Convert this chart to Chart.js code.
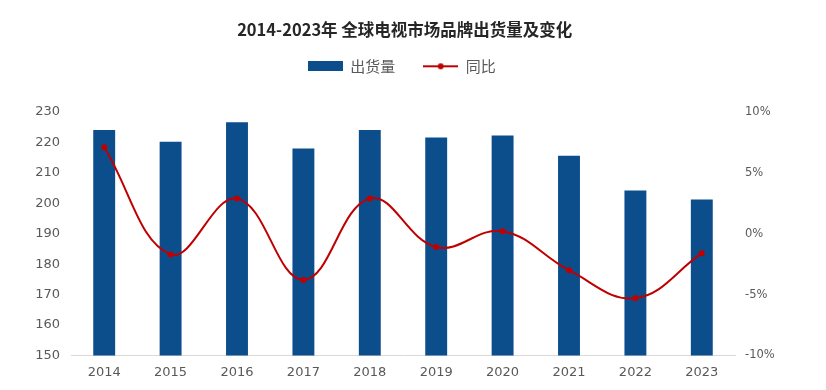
<!DOCTYPE html>
<html>
<head>
<meta charset="utf-8">
<style>
html,body{margin:0;padding:0;background:#fff;}
#wrap{width:826px;height:390px;position:relative;}
</style>
<script src="https://cdn.jsdelivr.net/npm/chart.js@4.4.1/dist/chart.umd.min.js"></script>
</head>
<body>
<div id="wrap"><canvas id="c" width="826" height="390"></canvas></div>
<script>
const categories = ['2014','2015','2016','2017','2018','2019','2020','2021','2022','2023'];
const shipments = [224.1, 220.2, 226.6, 218.0, 224.1, 221.6, 222.3, 215.6, 204.2, 201.2];
const yoy = [7.1, -1.7, 2.9, -3.8, 2.9, -1.1, 0.2, -3.0, -5.3, -1.6];
const titleText = '2014-2023年 全球电视市场品牌出货量及变化';
const seriesNames = ['出货量', '同比'];

const FONT = '"Noto Sans CJK SC", "Noto Sans", sans-serif';
const NUMFONT = '"DejaVu Sans", sans-serif';
const BAR = '#0C4D8C';
const RED = '#C00000';

function barIcon(){
  const c = document.createElement('canvas'); c.width = 35; c.height = 10;
  const g = c.getContext('2d'); g.fillStyle = BAR; g.fillRect(0,0,35,10); return c;
}
function lineIcon(){
  const c = document.createElement('canvas'); c.width = 35; c.height = 10;
  const g = c.getContext('2d'); g.strokeStyle = RED; g.lineWidth = 2;
  g.beginPath(); g.moveTo(0,5); g.lineTo(35,5); g.stroke();
  g.fillStyle = RED; g.beginPath(); g.arc(17.5,5,3,0,Math.PI*2); g.fill(); return c;
}

new Chart(document.getElementById('c'), {
  data: {
    labels: categories,
    datasets: [
      {
        type: 'line', label: seriesNames[1], data: yoy, yAxisID: 'y1',
        borderColor: RED, backgroundColor: RED, borderWidth: 2,
        pointRadius: 3, pointBackgroundColor: RED, pointBorderWidth: 0,
        tension: 0.4, order: 0
      },
      {
        type: 'bar', label: seriesNames[0], data: shipments, yAxisID: 'y',
        backgroundColor: BAR, barPercentage: 0.33, categoryPercentage: 1.0, order: 1
      }
    ]
  },
  options: {
    responsive: false, animation: false,
    layout: { padding: { top: 11, left: 0, right: 0, bottom: 1 } },
    plugins: {
      title: {
        display: true, text: titleText + '\u3000', color: '#262626',
        font: { family: FONT, size: 16.5, weight: 'bold' },
        padding: { top: 9, bottom: -9 }
      },
      subtitle: {
        display: true, text: ' ', weight: 500,
        font: { family: FONT, size: 1 },
        padding: { top: 0, bottom: 27 }
      },
      legend: {
        display: true, position: 'top', weight: 1000,
        labels: {
          usePointStyle: true, pointStyleWidth: 35, boxHeight: 10, color: '#595959',
          font: { family: FONT, size: 15 },
          padding: 28,
          generateLabels(chart){
            return [
              { text: seriesNames[0], pointStyle: barIcon(), fontColor: '#595959', datasetIndex: 1, hidden: false, lineWidth: 0 },
              { text: seriesNames[1] + '\u3000\u2002', pointStyle: lineIcon(), fontColor: '#595959', datasetIndex: 0, hidden: false, lineWidth: 0 }
            ];
          }
        }
      },
      tooltip: { enabled: false }
    },
    scales: {
      x: {
        grid: { display: false, drawTicks: false },
        border: { display: true, color: '#D9D9D9', width: 1 },
        ticks: { color: '#595959', font: { family: NUMFONT, size: 13 }, padding: 9 }
      },
      y: {
        position: 'left', min: 150, max: 230,
        grid: { display: false, drawTicks: false },
        border: { display: false },
        ticks: { stepSize: 10, color: '#595959', font: { family: NUMFONT, size: 13 }, padding: 11 },
        afterFit(s){ s.width = 71; }
      },
      y1: {
        position: 'right', min: -10, max: 10,
        grid: { display: false, drawTicks: false },
        border: { display: false },
        ticks: { stepSize: 5, color: '#595959', font: { family: NUMFONT, size: 11.5 }, padding: 10,
          callback: v => v + '%' },
        afterFit(s){ s.width = 91; }
      }
    }
  }
});
</script>
</body>
</html>
